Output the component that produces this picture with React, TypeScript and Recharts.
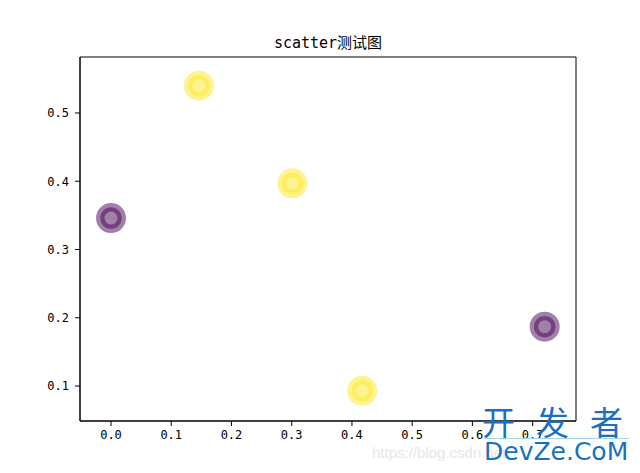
import React from 'react';
import { ScatterChart, Scatter, XAxis, YAxis, ReferenceArea, Cell } from 'recharts';

const xValues = [0.0, 0.146, 0.301, 0.417, 0.72];
const yValues = [0.346, 0.54, 0.397, 0.093, 0.187];
const classes = [0, 1, 1, 1, 0];
const palette = ['#440154', '#fde725'];
const xTicks = [0, 0.1, 0.2, 0.3, 0.4, 0.5, 0.6, 0.7];
const yTicks = [0.1, 0.2, 0.3, 0.4, 0.5];
const xDomain = [-0.0515, 0.772];
const yDomain = [0.0488, 0.582];
const title = 'scatter测试图';

const data = xValues.map((x, i) => ({ x, y: yValues[i], c: classes[i] }));

const tickStyle = { fontFamily: '"DejaVu Sans Mono", monospace', fontSize: 12, fill: '#000' };

const Marker = (props: any) => {
  const { cx, cy, fill } = props;
  if (cx == null || cy == null) return null;
  return (
    <circle cx={cx} cy={cy} r={10.75} fill={fill} fillOpacity={0.5} stroke={fill} strokeOpacity={0.5} strokeWidth={8.5} />
  );
};

export default function App() {
  return (
    <div style={{ position: 'absolute', left: 0, top: 0, width: 640, height: 473, background: '#fff', overflow: 'hidden' }}>
      <div
        style={{
          position: 'absolute', left: 80, width: 496, top: 34, textAlign: 'center',
          fontFamily: '"DejaVu Sans Mono", "Noto Sans CJK SC", monospace', fontSize: 15, color: '#000', lineHeight: '18px',
        }}
      >
        {title}
      </div>
      <ScatterChart width={640} height={473} margin={{ top: 57, right: 64, bottom: 0, left: 0 }}>
        <XAxis
          type="number" dataKey="x" domain={xDomain} ticks={xTicks} allowDataOverflow
          tickFormatter={(v: number) => v.toFixed(1)} height={52}
          tickSize={5} tickMargin={4} tick={tickStyle}
          axisLine={{ stroke: '#000' }} tickLine={{ stroke: '#000' }}
        />
        <YAxis
          type="number" dataKey="y" domain={yDomain} ticks={yTicks} allowDataOverflow
          tickFormatter={(v: number) => v.toFixed(1)} width={80}
          tickSize={5} tickMargin={6} tick={tickStyle}
          axisLine={{ stroke: '#000' }} tickLine={{ stroke: '#000' }}
        />
        <ReferenceArea x1={xDomain[0]} x2={xDomain[1]} y1={yDomain[0]} y2={yDomain[1]} fill="none" stroke="#000" strokeWidth={1} />
        <Scatter data={data} isAnimationActive={false} shape={<Marker />}>
          {data.map((d, i) => (
            <Cell key={i} fill={palette[d.c]} />
          ))}
        </Scatter>
      </ScatterChart>
      <div style={{ position: 'absolute', left: 372, top: 444, fontFamily: '"Liberation Sans", sans-serif', fontSize: 15, color: '#e6e6e6', whiteSpace: 'nowrap' }}>
        https://blog.csdn.net/
      </div>
      <div style={{ position: 'absolute', left: 482, top: 403, fontFamily: '"Noto Sans CJK SC", sans-serif', fontSize: 33, color: '#1a6fc0', lineHeight: '36px', whiteSpace: 'nowrap' }}>
        <span style={{ letterSpacing: 21 }}>开发</span>者
      </div>
      <div style={{ position: 'absolute', left: 485, top: 438, width: 144, height: 1, background: '#9fd3ea' }} />
      <div style={{ position: 'absolute', left: 484, top: 437, fontFamily: '"DejaVu Sans", sans-serif', fontSize: 25, color: '#1a6fc0', lineHeight: '30px', whiteSpace: 'nowrap' }}>
        DevZe.CoM
      </div>
    </div>
  );
}
